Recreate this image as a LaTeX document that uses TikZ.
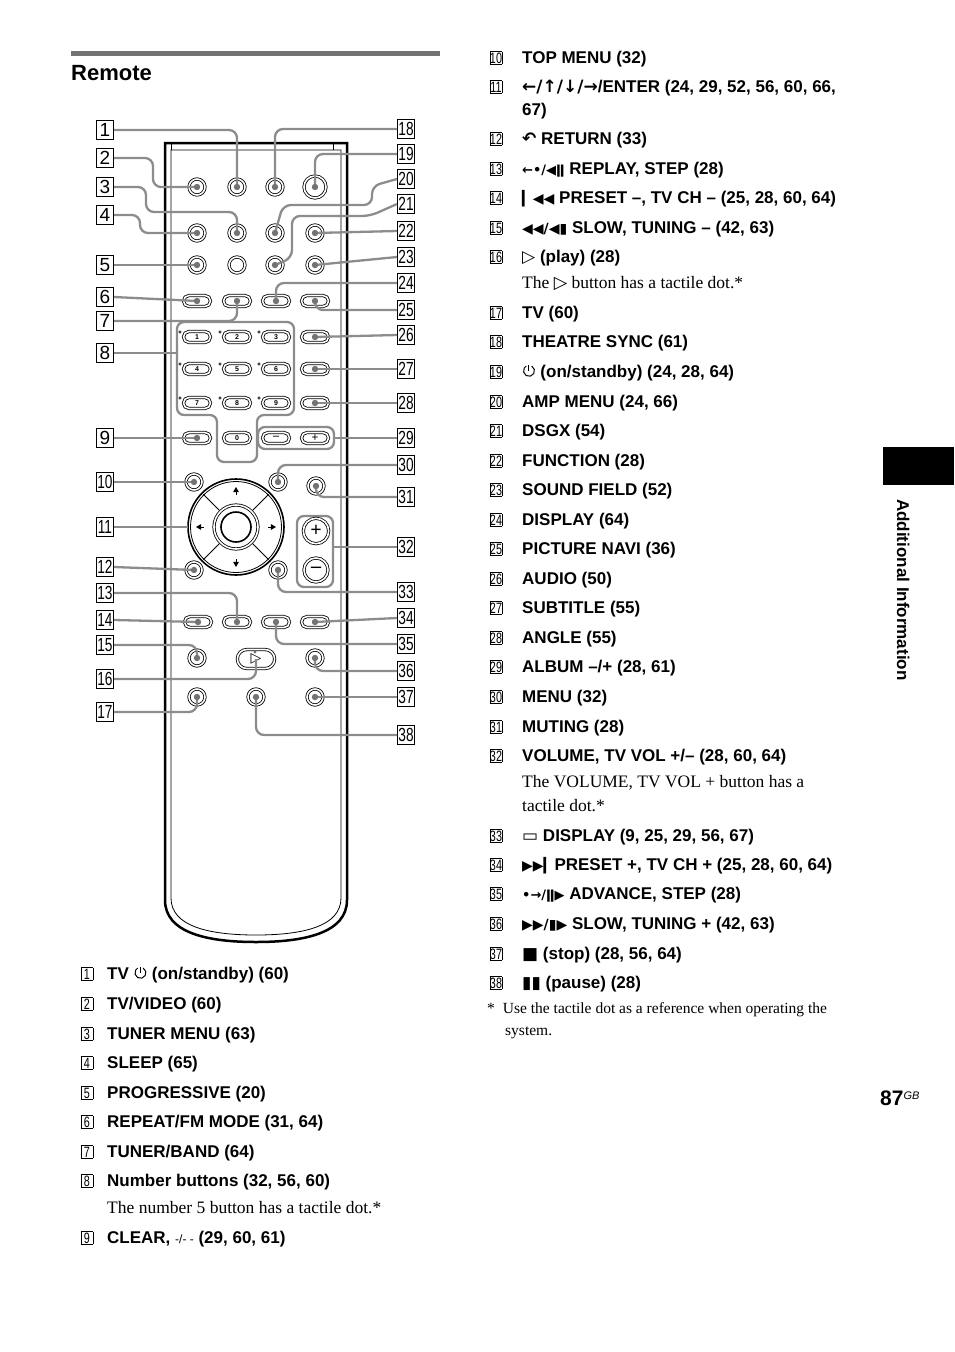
\documentclass[tikz,border=0pt]{standalone}
\usepackage{fontspec}
\setmainfont{Liberation Serif}
\setsansfont{Liberation Sans}
\newfontfamily\sym{DejaVu Sans}
\usetikzlibrary{shapes.misc}
\newcommand{\nbx}[1]{{\setlength\fboxsep{0.6pt}\setlength\fboxrule{0.8pt}\fbox{\makebox[10pt]{\fontsize{15}{15}\selectfont\sffamily\scalebox{0.72}[1]{#1}}}}}
\newcommand{\pwr}{\tikz[x=1pt,y=1pt,baseline=0pt,line width=1pt]{\draw (4.5,6.2)++(60:5.5) arc (60:-240:5.5); \draw (4.5,6.5)--(4.5,12.5);}}
\begin{document}
\begin{tikzpicture}[x=1pt,y=-1pt,
 lab/.style={draw,line width=1pt,minimum width=17pt,minimum height=19pt,inner sep=0pt,font=\fontsize{19}{19}\selectfont\sffamily},
 cb/.style={circle,draw,double,double distance=1.6pt,line width=0.8pt,minimum size=16pt,inner sep=0pt,fill=white},
 ob/.style={rounded rectangle,draw,double,double distance=1.6pt,line width=0.8pt,minimum width=27pt,minimum height=11pt,inner sep=0pt,fill=white,font=\fontsize{7}{7}\selectfont\sffamily\bfseries},
 ld/.style={draw=black!45,line width=2.3pt,rounded corners=8pt},
 grp/.style={draw=black!45,line width=2.3pt,rounded corners=7pt},
 it/.style={anchor=base west,inner sep=0pt,font=\fontsize{17}{20}\selectfont\sffamily\bfseries},
 ds/.style={anchor=base west,inner sep=0pt,font=\fontsize{17.5}{20}\selectfont},
 nb/.style={anchor=base,inner sep=0pt}]
\useasboundingbox (0,0) rectangle (954,1352);
% header
\fill[black!55] (71,51) rectangle (440,56);
\node[anchor=base west,inner sep=0pt,font=\fontsize{22}{22}\selectfont\sffamily\bfseries] (title) at (71,80) {Remote};
% side tab
\fill[black] (883,447) rectangle (954,485);
\node[rotate=-90,anchor=base west,inner sep=0pt,font=\fontsize{17}{17}\selectfont\sffamily\bfseries] (side) at (897,499) {Additional Information};
\node[anchor=base west,inner sep=0pt,font=\fontsize{21}{21}\selectfont\sffamily\bfseries] (pg) at (880,1105) {87\raisebox{6pt}{\fontsize{11}{11}\selectfont\itshape\mdseries GB}};
% remote body
\draw[line width=2.5pt] (165,143) -- (165,900) .. controls (165,932) and (205,942) .. (256,942) .. controls (307,942) and (347,932) .. (347,900) -- (347,143) -- cycle;
\draw[line width=0.8pt] (171,150) -- (171,898) .. controls (171,926) and (208,935) .. (256,935) .. controls (304,935) and (341,926) .. (341,898) -- (341,150) -- cycle;
\draw[line width=0.8pt] (171,150) -- (171,143) (333,143) -- (333,150);
% groups
\draw[grp] (177,322) -- (294,322) -- (294,415) -- (257,415) -- (257,462) -- (217,462) -- (217,415) -- (177,415) -- cycle;
\draw[grp] (258,427) rectangle (334,449);
\draw[grp] (297,516) rectangle (333,587);
% buttons rows 1-3
\foreach \r/\y in {1/187,2/233,3/265}{
 \foreach \c/\x in {1/197,2/237,3/275,4/315}{\node[cb] (c\r\c) at (\x,\y) {};}}
\node[circle,draw,double,double distance=1.6pt,line width=0.8pt,minimum size=22pt,fill=white] (c14) at (315,187) {};
\foreach \c/\x in {1/197,2/237,3/276,4/315}{\node[ob] (o\c) at (\x,301) {};}
% number pad
\foreach \n/\x/\y in {1/197/337,2/237/337,3/276/337,4/197/369,5/237/369,6/276/369,7/197/403,8/237/403,9/276/403}{
 \node[ob] (n\n) at (\x,\y) {\n}; \draw[line width=0.5pt] (\x-17,\y-5) circle (1.3pt);}
\foreach \r/\y in {1/337,2/369,3/403}{\node[ob] (r\r) at (315,\y) {};}
\node[ob] (clr) at (197,438) {};
\node[ob] (n0) at (237,438) {0};
\node[ob,font=\fontsize{12}{12}\selectfont\bfseries] (mi) at (276,438) {--};
\node[ob,font=\fontsize{12}{12}\selectfont\bfseries] (pl) at (315,438) {+};
% menu + dpad
\node[cb] (tm) at (194,482) {};
\node[cb] (mn) at (278,482) {};
\node[cb] (mu) at (316,486) {};
\node[cb] (rt) at (194,570) {};
\node[cb] (dp) at (278,570) {};
\draw[line width=1.6pt] (236,527) circle (48pt);
\draw[line width=0.8pt] (236,527) circle (45.5pt);
\node[circle,draw,double,double distance=1.6pt,line width=0.8pt,minimum size=44pt] (ent) at (236,527) {};
\draw[line width=1.6pt] (236,527) circle (15pt);
\foreach \a in {45,135,225,315}{\draw[line width=1pt] (236,527)++(\a:24) -- ++(\a:22);}
\foreach \a in {0,90,180,270}{\fill (236,527)++(\a:36) ++(\a:4) -- ++(\a+150:6) -- ++(\a-90:6) -- cycle; \draw[line width=1pt] (236,527)++(\a:36) -- ++(\a:-4);}
\node[circle,draw,double,double distance=1.6pt,line width=0.8pt,minimum size=24pt,font=\fontsize{20}{20}\selectfont\bfseries] (vp) at (316,531) {+};
\node[circle,draw,double,double distance=1.6pt,line width=0.8pt,minimum size=24pt,font=\fontsize{20}{20}\selectfont\bfseries] (vm) at (316,570) {--};
% transport
\foreach \c/\x in {1/198,2/237,3/276,4/315}{\node[ob] (t\c) at (\x,622) {};}
\node[cb] (sl) at (197,658) {};
\node[rounded rectangle,draw,double,double distance=1.6pt,line width=0.8pt,minimum width=44pt,minimum height=19pt,fill=white,font=\fontsize{14}{14}\selectfont\sym] (play) at (256,659) {▷};
\node[cb] (sr) at (315,658) {};
\node[cb] (tv) at (197,697) {};
\node[cb] (pa) at (256,697) {};
\node[cb] (st) at (315,697) {};
% labels left
\foreach \n/\y in {1/130,2/158,3/187,4/215,5/265,6/297,7/321,8/353,9/438,10/482,11/527,12/567,13/593,14/620,15/645,16/679,17/712}{\node[lab] (L\n) at (105,\y) {\ifnum\n>9 \scalebox{0.72}[1]{\n}\else\n\fi};}
\foreach \n/\y in {18/129,19/154,20/179,21/204,22/231,23/257,24/283,25/310,26/335,27/369,28/403,29/438,30/465,31/497,32/547,33/592,34/618,35/644,36/671,37/697,38/735}{\node[lab] (R\n) at (406,\y) {\scalebox{0.72}[1]{\n}};}
% leaders
\draw[ld] (L1.east) -| (c12.center);
\draw[ld] (L2.east) -- (153,158) |- (c11.center);
\draw[ld] (L3.east) -- (146,187) -- (146,212) -- (237,212) -- (c22.center);
\draw[ld] (L4.east) -- (140,215) |- (c21.center);
\draw[ld] (L5.east) -- (c31.center);
\draw[ld] (L6.east) -- (o1.center);
\draw[ld] (L7.east) -| (o2.center);
\draw[ld] (L8.east) -- (177,353);
\draw[ld] (L9.east) -- (clr.center);
\draw[ld] (L10.east) -- (tm.center);
\draw[ld] (L11.east) -- (188,527);
\draw[ld] (L12.east) -- (rt.center);
\draw[ld] (L13.east) -| (t2.center);
\draw[ld] (L14.east) -- (t1.center);
\draw[ld] (L15.east) -| (sl.center);
\draw[ld] (L16.east) -| (play.center);
\draw[ld] (L17.east) -| (tv.center);
\draw[ld] (R18.west) -| (c13.center);
\draw[ld] (R19.west) -| (c14.center);
\draw[ld] (R20.west) -- (372,186) -- (372,205) -- (283,205) -- (c23.center);
\draw[ld] (R21.west) -- (370,216) -- (292,216) -- (292,258) -- (c33.center);
\draw[ld] (R22.west) -- (c24.center);
\draw[ld] (R23.west) -- (c34.center);
\draw[ld] (R24.west) -| (o3.center);
\draw[ld] (R25.west) -| (o4.center);
\draw[ld] (R26.west) -- (r1.center);
\draw[ld] (R27.west) -- (r2.center);
\draw[ld] (R28.west) -- (r3.center);
\draw[ld] (R29.west) -- (334,438);
\draw[ld] (R30.west) -| (mn.center);
\draw[ld] (R31.west) -| (mu.center);
\draw[ld] (R32.west) -- (333,547);
\draw[ld] (R33.west) -| (dp.center);
\draw[ld] (R34.west) -- (t4.center);
\draw[ld] (R35.west) -| (t3.center);
\draw[ld] (R36.west) -| (sr.center);
\draw[ld] (R37.west) -- (st.center);
\draw[ld] (R38.west) -| (pa.center);
\foreach \b in {c12,c11,c22,c21,c31,o1,o2,clr,tm,rt,t2,t1,sl,tv,c13,c14,c23,c33,c24,c34,o3,o4,r1,r2,r3,mn,mu,dp,t4,t3,sr,st,pa}{\fill[black!55] (\b.center) circle (3.2pt);}
\fill[black!55] (play.center)++(-1,-7) circle (1.6pt);
% left list
\foreach \n/\y/\t in {1/979/{TV \pwr\ (on/standby) (60)},2/1009/{TV/VIDEO (60)},3/1039/{TUNER MENU (63)},4/1068/{SLEEP (65)},5/1098/{PROGRESSIVE (20)},6/1127/{REPEAT/FM MODE (31, 64)},7/1157/{TUNER/BAND (64)},8/1186/{Number buttons (32, 56, 60)},9/1243/{CLEAR, {\mdseries\fontsize{12}{12}\selectfont -/- -} (29, 60, 61)}}{
 \node[nb] (ln\n) at (87,\y) {\nbx{\n}}; \node[it] (lt\n) at (107,\y) {\t};}
\node[ds] (ld8) at (107,1213) {The number 5 button has a tactile dot.*};
% right list
\foreach \n/\y/\t in {10/63/{TOP MENU (32)},11/92/{{\sym\bfseries ←/↑/↓/→}/ENTER (24, 29, 52, 56, 60, 66,},12/144/{{\sym ↶} RETURN (33)},13/174/{{\sym\fontsize{13}{13}\selectfont ←•/◀ǁ} REPLAY, STEP (28)},14/203/{{\sym\fontsize{14}{14}\selectfont ▎◀◀} PRESET --, TV CH -- (25, 28, 60, 64)},15/233/{{\sym\fontsize{14}{14}\selectfont ◀◀/◀▮} SLOW, TUNING -- (42, 63)},16/262/{{\sym ▷} (play) (28)},17/318/{TV (60)},18/347/{THEATRE SYNC (61)},19/377/{\pwr\ (on/standby) (24, 28, 64)},20/407/{AMP MENU (24, 66)},21/436/{DSGX (54)},22/466/{FUNCTION (28)},23/495/{SOUND FIELD (52)},24/525/{DISPLAY (64)},25/554/{PICTURE NAVI (36)},26/584/{AUDIO (50)},27/613/{SUBTITLE (55)},28/643/{ANGLE (55)},29/672/{ALBUM --/+ (28, 61)},30/702/{MENU (32)},31/732/{MUTING (28)},32/761/{VOLUME, TV VOL +/-- (28, 60, 64)},33/841/{{\sym\mdseries ▭} DISPLAY (9, 25, 29, 56, 67)},34/870/{{\sym\fontsize{14}{14}\selectfont ▶▶▎}PRESET +, TV CH + (25, 28, 60, 64)},35/899/{{\sym\fontsize{13}{13}\selectfont •→/ǁ▶} ADVANCE, STEP (28)},36/929/{{\sym\fontsize{14}{14}\selectfont ▶▶/▮▶} SLOW, TUNING + (42, 63)},37/959/{{\sym ■} (stop) (28, 56, 64)},38/988/{{\sym ▮▮} (pause) (28)}}{
 \node[nb] (rn\n) at (496,\y) {\nbx{\n}}; \node[it] (rt\n) at (522,\y) {\t};}
\node[it] (r11b) at (522,115) {67)};
\node[ds] (rd16) at (522,288) {The {\sym ▷} button has a tactile dot.*};
\node[ds] (rd32a) at (522,787) {The VOLUME, TV VOL + button has a};
\node[ds] (rd32b) at (522,811) {tactile dot.*};
\node[anchor=base west,inner sep=0pt,font=\fontsize{15.5}{18}\selectfont] (fn1) at (487,1013) {*\hspace{8pt}Use the tactile dot as a reference when operating the};
\node[anchor=base west,inner sep=0pt,font=\fontsize{15.5}{18}\selectfont] (fn2) at (505,1035) {system.};
\end{tikzpicture}
\end{document}
